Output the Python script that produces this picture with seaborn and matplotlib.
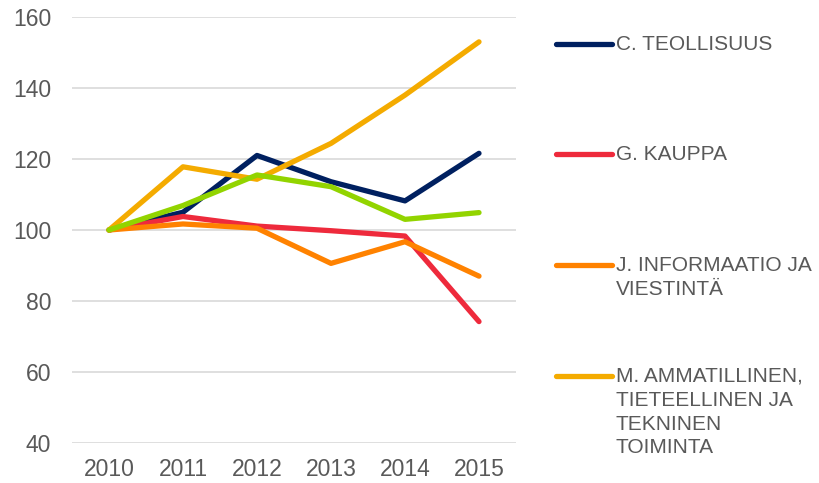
import numpy as np
import matplotlib.pyplot as plt
import pandas as pd
import seaborn as sns
from matplotlib.lines import Line2D

years = ["2010", "2011", "2012", "2013", "2014", "2015"]
teollisuus = [100, 105.0, 121.0, 113.6, 108.2, 121.6]
kauppa = [100, 103.8, 101.1, 99.8, 98.3, 74.2]
informaatio = [100, 101.7, 100.5, 90.6, 96.7, 87.0]
ammatillinen = [100, 117.8, 114.3, 124.4, 138.0, 153.0]
muu = [100, 106.9, 115.5, 112.2, 103.0, 104.9]

names = ["C. TEOLLISUUS", "G. KAUPPA", "J. INFORMAATIO JA\nVIESTINTÄ",
         "M. AMMATILLINEN,\nTIETEELLINEN JA\nTEKNINEN\nTOIMINTA", "_muu"]
series = [teollisuus, kauppa, informaatio, ammatillinen, muu]
colors = ["#002060", "#ee2a3c", "#ff8200", "#f4ab00", "#92d400"]

rows = []
for name, vals in zip(names, series):
    for i, v in enumerate(vals):
        rows.append({"x": i, "value": v, "series": name})
df = pd.DataFrame(rows)

sns.set_theme(style="white")
plt.rcParams['font.family'] = ['Liberation Sans', 'DejaVu Sans']
text_col = "#595959"

fig = plt.figure(figsize=(8.19, 4.83), dpi=100)
ax = fig.add_axes([72/819, 1-443/483, (516-72)/819, (443-17)/483])

sns.lineplot(data=df, x="x", y="value", hue="series", hue_order=names,
             palette=dict(zip(names, colors)), linewidth=3.8, legend=False,
             ax=ax, solid_capstyle="round")

ax.set_xlim(-0.5, 5.5)
ax.set_ylim(40, 160)
ax.set_yticks(np.arange(40, 161, 20))
ax.set_xticks(range(len(years)))
ax.set_xticklabels(years)
ax.set_xlabel("")
ax.set_ylabel("")
ax.grid(axis="y", color="#d9d9d9", linewidth=1.2)
ax.set_axisbelow(True)
for s in ax.spines.values():
    s.set_visible(False)
ax.tick_params(axis="both", length=0, labelsize=16.5, colors=text_col)
ax.tick_params(axis="y", pad=15)
ax.tick_params(axis="x", pad=11)

# legend on the right, handle level with the first text line
handle_y = [44, 154, 265, 376]
for name, col, hy in zip(names[:4], colors[:4], handle_y):
    yf = 1 - hy/483
    fig.add_artist(Line2D([556/819, 612/819], [yf, yf], transform=fig.transFigure,
                          color=col, linewidth=3.8, solid_capstyle="round"))
    fig.text(616/819, 1 - (hy - 9)/483, name, fontsize=15, color=text_col,
             va="top", ha="left", linespacing=1.32)

fig.savefig("out.png", dpi=100)
